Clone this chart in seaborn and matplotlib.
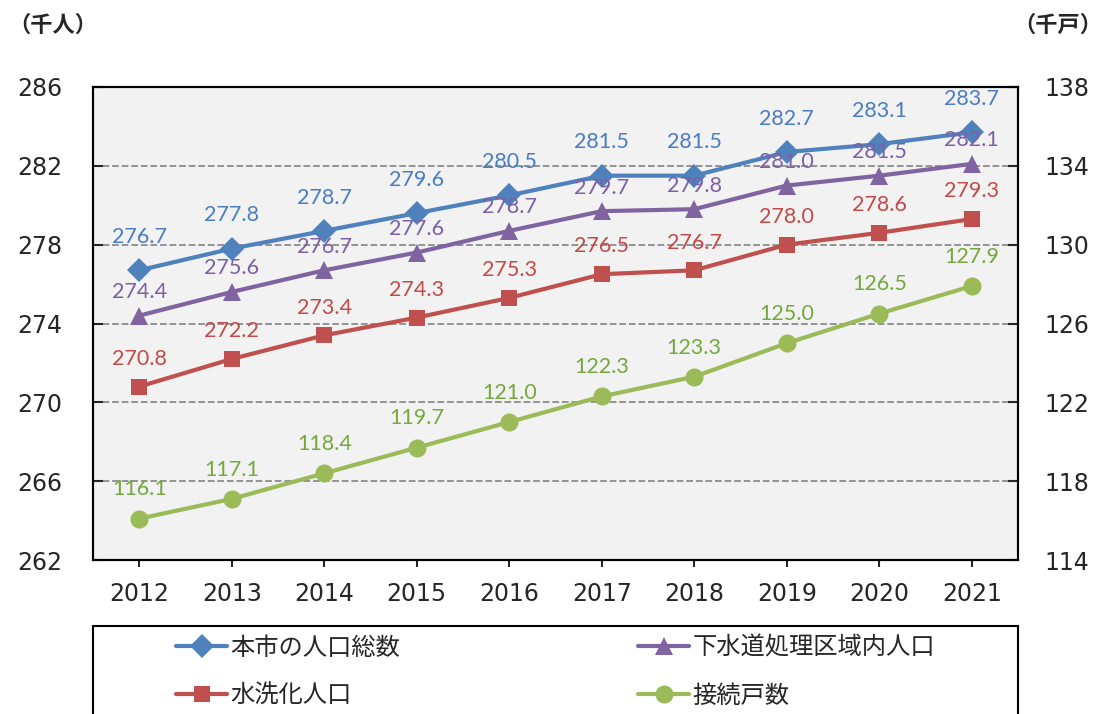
import numpy as np
import pandas as pd
import matplotlib
matplotlib.use('Agg')
import matplotlib.pyplot as plt
import matplotlib.patches as patches
import seaborn as sns

# data
years = ['2012', '2013', '2014', '2015', '2016', '2017', '2018', '2019', '2020', '2021']
total_pop = [276.7, 277.8, 278.7, 279.6, 280.5, 281.5, 281.5, 282.7, 283.1, 283.7]
sewer_area_pop = [274.4, 275.6, 276.7, 277.6, 278.7, 279.7, 279.8, 281.0, 281.5, 282.1]
flush_pop = [270.8, 272.2, 273.4, 274.3, 275.3, 276.5, 276.7, 278.0, 278.6, 279.3]
households = [116.1, 117.1, 118.4, 119.7, 121.0, 122.3, 123.3, 125.0, 126.5, 127.9]

names = ['本市の人口総数', '下水道処理区域内人口', '水洗化人口', '接続戸数']
left_ticks = [262, 266, 270, 274, 278, 282, 286]
right_ticks = [114, 118, 122, 126, 130, 134, 138]

sns.set_style('white', {'axes.facecolor': '#f2f2f2'})
plt.rcParams['font.family'] = ['DejaVu Sans', 'Noto Sans CJK JP']

blue, purple, red, green = '#4f81bd', '#8064a2', '#c0504d', '#9bbb59'
label_colors = {blue: '#4a7cc0', purple: '#7d5fa3', red: '#c24a47', green: '#74a83e'}

fig = plt.figure(figsize=(11.09, 7.14), dpi=100)
ax = fig.add_axes([93 / 1109, 1 - 560 / 714, 925 / 1109, 473 / 714])
ax2 = ax.twinx()

x = np.arange(len(years))

series = [
    (ax, total_pop, names[0], blue, 'D', 12, 24),
    (ax, sewer_area_pop, names[1], purple, '^', 13, 17),
    (ax, flush_pop, names[2], red, 's', 11, 20),
    (ax2, households, names[3], green, 'o', 13, 21),
]

for a, vals, name, c, m, ms, off in series:
    sns.lineplot(x=x, y=vals, ax=a, color=c, marker=m, markersize=ms,
                 markeredgecolor=c, markeredgewidth=0, linewidth=3,
                 label=name, legend=False)
    for i, v in enumerate(vals):
        a.annotate(f'{v:.1f}', (i, v), xytext=(0, off), textcoords='offset points',
                   ha='center', va='center', color=label_colors[c], fontsize=15.5,
                   family='Lato')

ax.set_xlim(-0.5, 9.5)
ax.set_ylim(262, 286)
ax2.set_ylim(114, 138)
ax.set_xticks(x)
ax.set_xticklabels(years)
ax.set_yticks(left_ticks)
ax2.set_yticks(right_ticks)
for a in (ax, ax2):
    a.set_xlabel('')
    a.set_ylabel('')

ax.yaxis.grid(True, linestyle='--', color='#8c8c8c', linewidth=1.3)
ax.set_axisbelow(True)

ax.tick_params(axis='y', direction='in', length=7, width=1.5, pad=22, labelsize=17, left=True)
ax.tick_params(axis='x', direction='out', length=5, width=1.5, pad=11, labelsize=17, bottom=True)
ax2.tick_params(axis='y', direction='in', length=7, width=1.5, pad=19, labelsize=17, right=True)

for a in (ax, ax2):
    for s in a.spines.values():
        s.set_visible(True)
        s.set_color('black')
        s.set_linewidth(1.5)

# units
fig.text(8 / 1109, 1 - 25 / 714, '（千人）', fontsize=16, fontweight='bold',
         ha='left', va='center', family=['Noto Sans CJK JP'])
fig.text(1102 / 1109, 1 - 25 / 714, '（千戸）', fontsize=16, fontweight='bold',
         ha='right', va='center', family=['Noto Sans CJK JP'])

# legend, two columns placed separately
h1, l1 = ax.get_legend_handles_labels()
h2, l2 = ax2.get_legend_handles_labels()
handles = dict(zip(l1 + l2, h1 + h2))
leg_kw = dict(frameon=False, loc='center left', handlelength=2.1,
              handletextpad=0.15, labelspacing=0.9, borderpad=0, borderaxespad=0,
              prop={'family': ['Noto Sans CJK JP'], 'size': 17.5})
fig.legend([handles[names[0]], handles[names[2]]], [names[0], names[2]],
           bbox_to_anchor=(176 / 1109, 1 - 671.5 / 714), **leg_kw)
fig.legend([handles[names[1]], handles[names[3]]], [names[1], names[3]],
           bbox_to_anchor=(638 / 1109, 1 - 671.5 / 714), **leg_kw)

box = patches.Rectangle((93 / 1109, -0.05), 925 / 1109, (714 - 626) / 714 + 0.05,
                        transform=fig.transFigure, fill=False, ec='black', lw=1.5,
                        clip_on=False)
fig.add_artist(box)

fig.savefig('out.png', dpi=100)
